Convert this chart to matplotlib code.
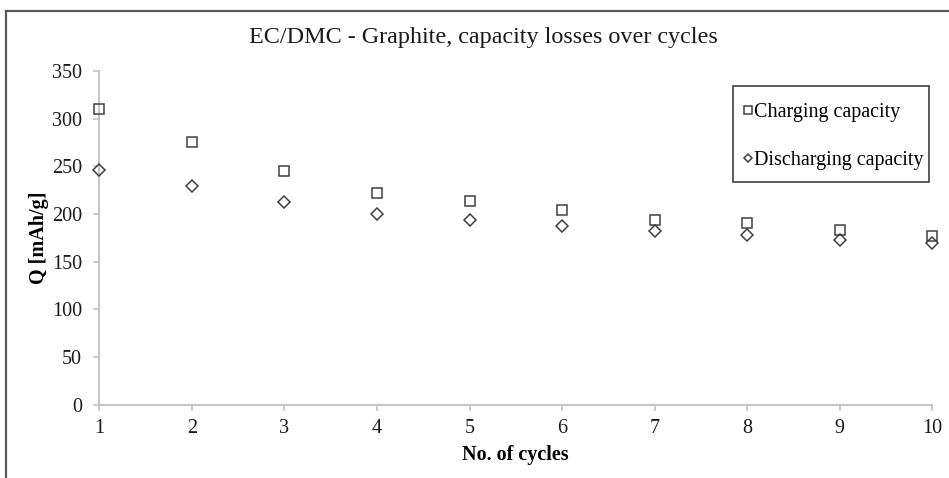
import matplotlib
matplotlib.use("Agg")
import matplotlib.pyplot as plt
from matplotlib.lines import Line2D
from matplotlib.patches import Rectangle

cycles = [1, 2, 3, 4, 5, 6, 7, 8, 9, 10]
charging = [310, 275, 245, 222, 214, 204, 194, 191, 183, 177]
discharging = [246, 229, 212, 200, 194, 187, 182, 178, 173, 169]
yticks = [0, 50, 100, 150, 200, 250, 300, 350]

plt.rcParams['font.family'] = ['Liberation Serif', 'DejaVu Serif']

W, H = 949, 478
fig = plt.figure(figsize=(W / 100, H / 100), dpi=100)
ax = fig.add_axes([99.3 / W, 1 - 404.5 / H, (932.3 - 99.3) / W, (404.5 - 71) / H])

mk = dict(linestyle='none', markerfacecolor='none', markeredgecolor='#404040',
          markeredgewidth=1.1, clip_on=False, zorder=3)
ax.plot(cycles, charging, marker='s', markersize=7, label='Charging capacity', **mk)
ax.plot(cycles, discharging, marker='D', markersize=5.8, label='Discharging capacity', **mk)

ax.set_xlim(1, 10)
ax.set_ylim(0, 350)
ax.set_xticks(cycles)
ax.set_yticks(yticks)
for s in ['top', 'right']:
    ax.spines[s].set_visible(False)
for s in ['left', 'bottom']:
    ax.spines[s].set_color('#bfbfbf')
    ax.spines[s].set_linewidth(1.3)
ax.tick_params(axis='both', direction='out', length=4.5, width=1.1, color='#bfbfbf',
               labelsize=14.5, labelcolor='#1a1a1a')
ax.tick_params(axis='y', pad=8)
ax.tick_params(axis='x', pad=6)

ax.set_xlabel('No. of cycles', fontsize=14.5, fontweight='bold', va='center')
ax.xaxis.set_label_coords(0.5, -(455 - 404.5) / (404.5 - 71))
ax.set_ylabel('Q [mAh/g]', fontsize=14.5, fontweight='bold', va='center')
ax.yaxis.set_label_coords((39 - 99.3) / (932.3 - 99.3), 0.5)

fig.text(483 / W, 1 - 38 / H, 'EC/DMC - Graphite, capacity losses over cycles',
         ha='center', va='center', fontsize=17.4, color='#1a1a1a')

leg = ax.legend(loc='upper left', bbox_to_anchor=(733 / W, 1 - 93 / H),
                bbox_transform=fig.transFigure, borderaxespad=0, fontsize=14.5,
                frameon=False, labelspacing=1.45, handlelength=0.5,
                handletextpad=0.03, borderpad=0.5, markerscale=0.75)

# legend frame
fig.add_artist(Rectangle((733 / W, 1 - 182 / H), (929 - 733) / W, (182 - 86) / H,
                         transform=fig.transFigure, facecolor='none',
                         edgecolor='#404040', linewidth=1.2))

# outer frame
fc = '#5a5a5a'
fig.add_artist(Line2D([6 / W, 6 / W], [0, 1 - 11 / H], color=fc, linewidth=1.6,
                      transform=fig.transFigure))
fig.add_artist(Line2D([6 / W, 1], [1 - 11 / H, 1 - 11 / H], color=fc, linewidth=1.6,
                      transform=fig.transFigure))

fig.savefig('out.png', dpi=100)
